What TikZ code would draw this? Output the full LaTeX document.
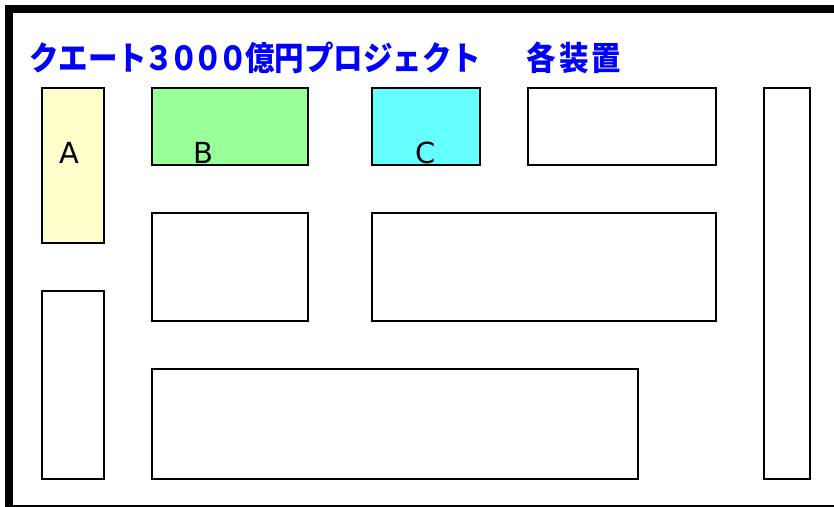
\documentclass[tikz,border=0pt]{standalone}
\usepackage{graphicx}
\usepackage{fontspec}
\setmainfont{DejaVu Sans}
\newfontfamily\jpfont{Noto Sans CJK JP}
\definecolor{titleblue}{RGB}{0,0,255}
\definecolor{fillA}{RGB}{255,255,204}
\definecolor{fillB}{RGB}{153,255,153}
\definecolor{fillC}{RGB}{102,255,255}
\newcommand{\dg}[1]{\makebox[24.5pt][c]{#1}}
\newcommand{\wk}[1]{\makebox[32.5pt][c]{#1}}
\tikzset{
  box/.style={draw=black, line width=1.6pt, rectangle, inner sep=0pt, anchor=north west},
  lbl/.style={font=\fontsize{29}{29}\selectfont, text=black, inner sep=0pt},
}
\begin{document}
\begin{tikzpicture}[x=1pt,y=-1pt]
\useasboundingbox (0,0) rectangle (834,506);
\fill[white] (0,0) rectangle (834,506);
\draw[line width=8pt] (9,9) rectangle (845,509);
\node[font=\jpfont\bfseries\fontsize{29.5}{30}\selectfont, text=titleblue, anchor=base west, inner sep=0pt] (title) at (29,70.5) {\scalebox{1}[1.12]{クエート\dg{３}\dg{０}\dg{０}\dg{０}億円プロジェクト\hspace{44pt}\wk{各}\wk{装}\wk{置}}};
% row 1
\node[box, fill=fillA, minimum width=62pt, minimum height=155pt] (A) at (41,87) {};
\node[box, fill=fillB, minimum width=156pt, minimum height=77pt] (B) at (151,87) {};
\node[box, fill=fillC, minimum width=108pt, minimum height=77pt] (C) at (371,87) {};
\node[box, minimum width=188pt, minimum height=77pt] (D) at (527,87) {};
\node[box, minimum width=46pt, minimum height=391pt] (R) at (763,87) {};
% row 2
\node[box, minimum width=156pt, minimum height=108pt] (E) at (151,212) {};
\node[box, minimum width=344pt, minimum height=108pt] (F) at (371,212) {};
% lower
\node[box, minimum width=62pt, minimum height=188pt] (G) at (41,290) {};
\node[box, minimum width=486pt, minimum height=110pt] (H) at (151,368) {};
% labels
\node[lbl] (la) at (69,153) {A};
\node[lbl] (lb) at (203,153) {B};
\node[lbl] (lc) at (426,153) {C};
\end{tikzpicture}
\end{document}
